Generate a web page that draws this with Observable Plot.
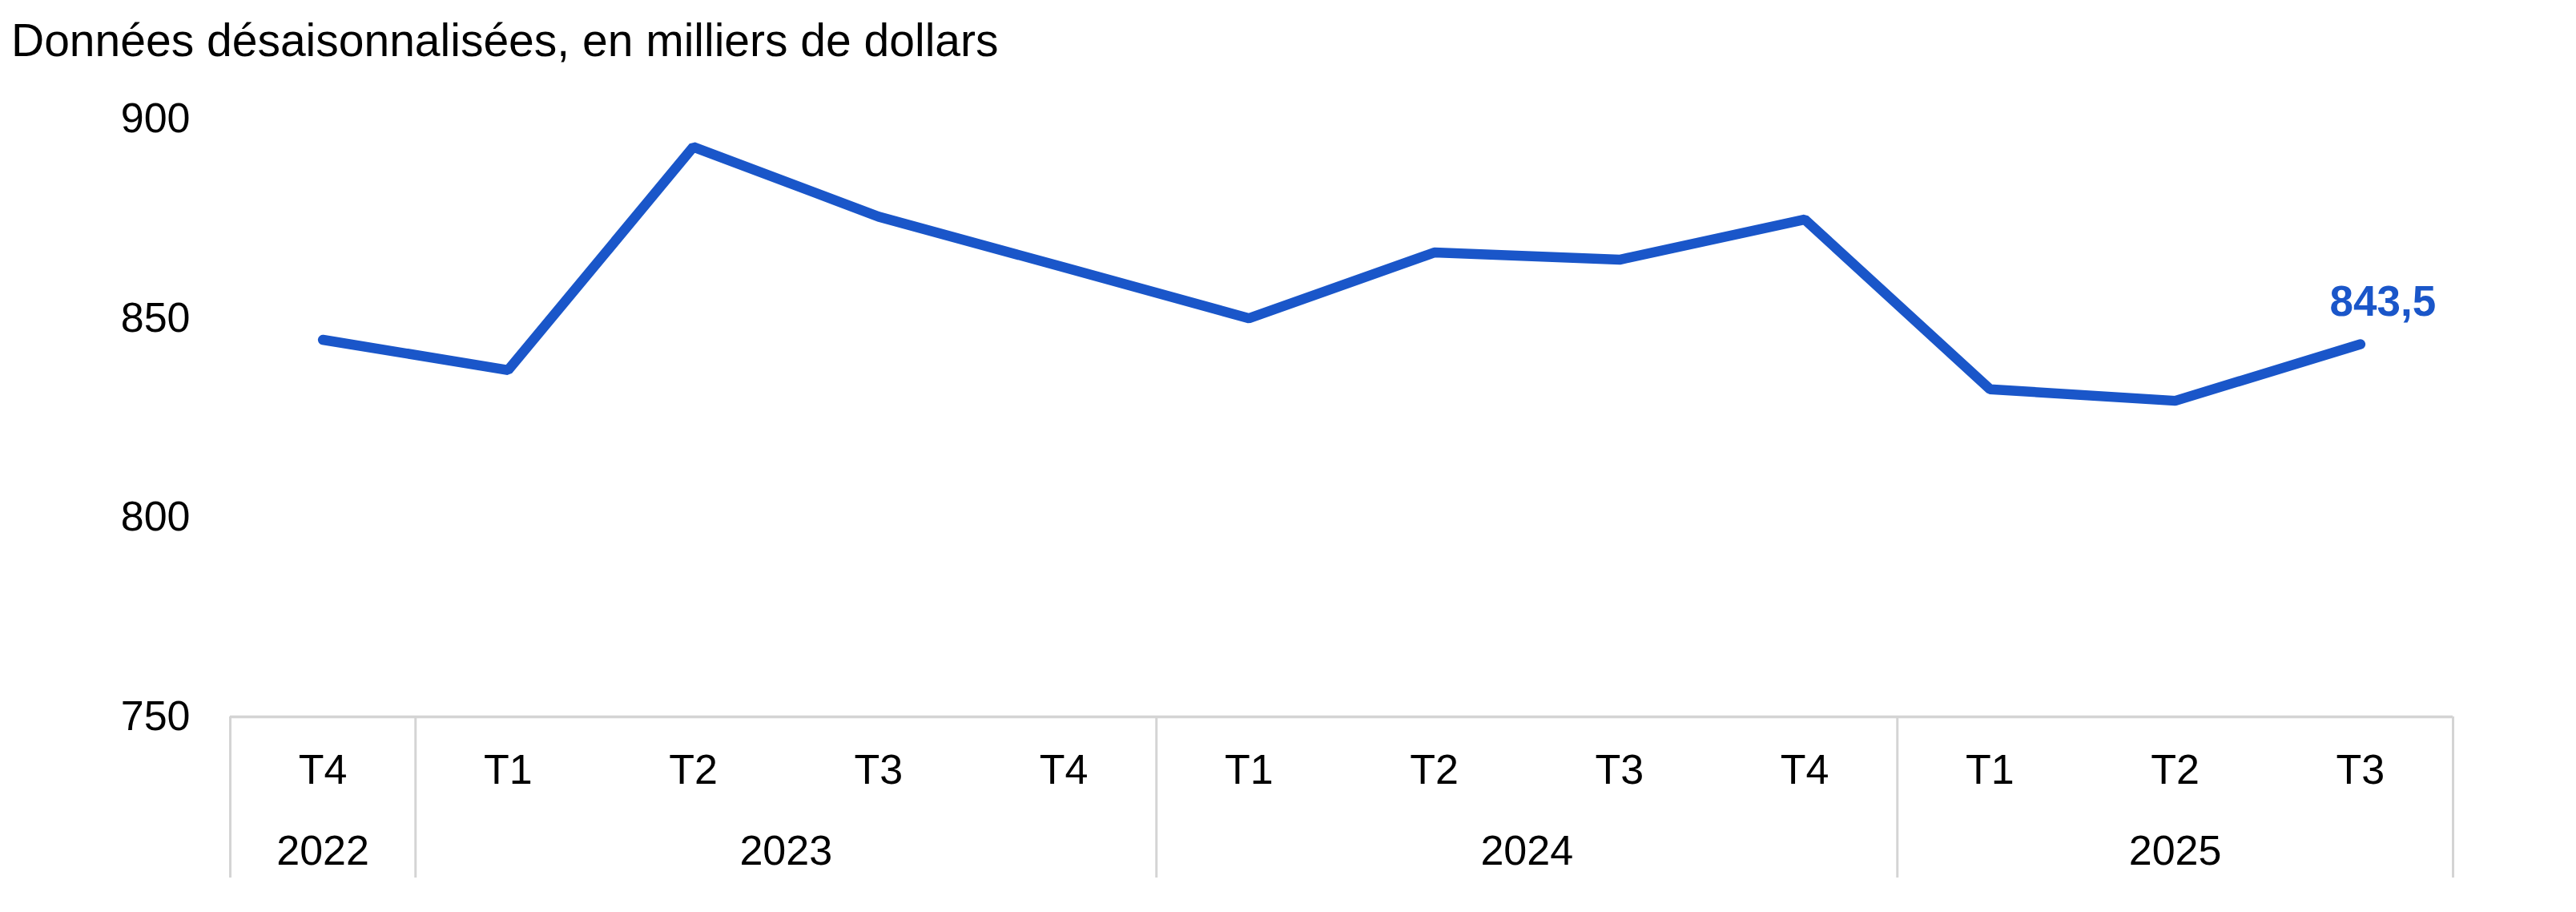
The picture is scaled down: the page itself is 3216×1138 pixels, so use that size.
<!DOCTYPE html>
<html>
<head>
<meta charset="utf-8">
<script src="https://cdn.jsdelivr.net/npm/d3@7"></script>
<script src="https://cdn.jsdelivr.net/npm/@observablehq/plot@0.6"></script>
<style>
  html, body { margin: 0; padding: 0; background: #fff; }
  #title { font-family: "Liberation Sans", Arial, sans-serif; font-size: 57px; line-height: 92px; height: 92px; padding-top: 4px; padding-left: 14px; color: #000; white-space: nowrap; }
</style>
</head>
<body>
<div id="title">Données désaisonnalisées, en milliers de dollars</div>
<div id="chart"></div>
<script>
const quarters = ["T4","T1","T2","T3","T4","T1","T2","T3","T4","T1","T2","T3"];
const values = [844.6, 837.0, 893.0, 875.5, 862.8, 850.0, 866.5, 864.7, 874.8, 832.2, 829.3, 843.5];
const years = ["2022","2023","2024","2025"];
const yearCounts = [1, 4, 4, 3];
const yTicks = [750, 800, 850, 900];

const lineColor = "#1A56C9";
const gridColor = "#d4d4d4";

const width = 3216, height = 1042;
const marginTop = 52, marginBottom = 244, marginLeft = 287, marginRight = 154;
const frameH = height - marginTop - marginBottom;
const tableH = 201;

const pts = values.map((v, i) => ({i, v, q: quarters[i]}));
let start = 0;
const yearGroups = years.map((y, k) => {
  const g = {year: y, start, count: yearCounts[k], center: start + (yearCounts[k] - 1) / 2};
  start += yearCounts[k];
  return g;
});
const bounds = [-0.5, ...yearGroups.map(g => g.start + g.count - 0.5)];
const last = pts[pts.length - 1];
const fmt = v => v.toFixed(1).replace(".", ",");

const chart = Plot.plot({
  width, height, marginTop, marginBottom, marginLeft, marginRight,
  style: {fontFamily: "Liberation Sans, Arial, sans-serif", fontSize: "52px", color: "#000", background: "#fff"},
  x: {type: "linear", domain: [-0.5, quarters.length - 0.5], axis: null},
  y: {domain: [750, 900], axis: null},
  marks: [
    Plot.ruleY([750], {stroke: gridColor, strokeWidth: 3.5}),
    Plot.ruleX(bounds, {x: d => d, stroke: gridColor, strokeWidth: 3, insetTop: frameH, insetBottom: -tableH}),
    Plot.axisY({ticks: yTicks, tickSize: 0, tickPadding: 50, fontSize: 52, label: null, tickFormat: d => String(d)}),
    Plot.text(pts, {x: "i", text: "q", frameAnchor: "bottom", dy: 83, fontSize: 52, fill: "#000"}),
    Plot.text(yearGroups, {x: "center", text: "year", frameAnchor: "bottom", dy: 184, fontSize: 52, fill: "#000"}),
    Plot.line(pts, {x: "i", y: "v", stroke: lineColor, strokeWidth: 12.5, strokeLinecap: "round", strokeLinejoin: "miter"}),
    Plot.text([last], {x: "i", y: "v", text: d => fmt(d.v), dx: 28, dy: -52, fontSize: 53, fontWeight: "bold", fill: lineColor})
  ]
});
document.getElementById("chart").appendChild(chart);
</script>
</body>
</html>
